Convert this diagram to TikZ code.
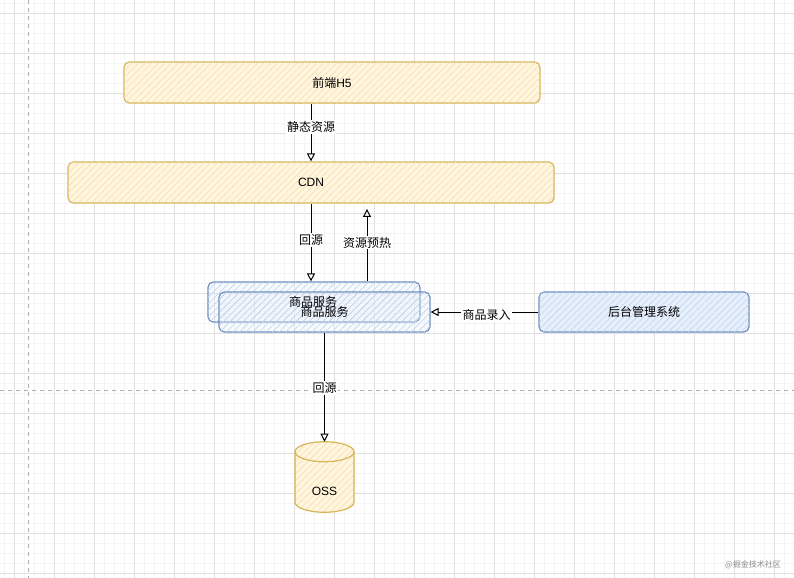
\documentclass[tikz,border=0pt]{standalone}
\usepackage{fontspec}
\setmainfont{Liberation Sans}
\newfontfamily\cjk{Noto Sans CJK SC}
\usetikzlibrary{patterns.meta,arrows.meta,calc}
\definecolor{ylw}{HTML}{D6B656}
\definecolor{ylwfill}{HTML}{FFF6DD}
\definecolor{ylwhatch}{HTML}{F6DDB8}
\definecolor{blu}{HTML}{6C8EBF}
\definecolor{blufill}{HTML}{E6EFFC}
\definecolor{bluhatch}{HTML}{C3D4EC}
\definecolor{gmin}{HTML}{F4F4F4}
\definecolor{gmaj}{HTML}{E0E0E0}
\tikzset{
  box/.style={rounded corners=4pt, line width=0.9pt, font=\fontsize{9}{11}\selectfont, text opacity=1, inner sep=0pt},
  ybox/.style={box, draw=ylw, fill=ylwfill, postaction={pattern={Lines[angle=45,distance=3.5pt,line width=0.45pt]}, pattern color=ylwhatch}},
  bbox/.style={box, draw=blu, fill=blufill, fill opacity=0.3, postaction={pattern={Lines[angle=45,distance=3.5pt,line width=0.45pt]}, pattern color=bluhatch}},
  btext/.style={font=\fontsize{9}{11}\selectfont\cjk, inner sep=0pt},
  lab/.style={fill=white, inner sep=1pt, font=\fontsize{9}{11}\selectfont\cjk},
  arr/.style={-{Triangle[open,length=6pt,width=6pt]}, line width=0.75pt, black},
  gridmin/.style={gmin, line width=0.5pt},
  gridmaj/.style={gmaj, line width=0.6pt},
  guide/.style={gray!65, line width=0.6pt, dash pattern=on 3pt off 3pt}
}
\begin{document}
\begin{tikzpicture}[x=0.75pt, y=-0.75pt]
\useasboundingbox (0,0) rectangle (794,578);
\fill[white] (0,0) rectangle (794,578);
% grid
\draw[gridmin] foreach \x in {4,14,...,794} {(\x,0) -- (\x,578)};
\draw[gridmin] foreach \y in {3,13,...,578} {(0,\y) -- (794,\y)};
\draw[gridmaj] foreach \x in {14,54,...,794} {(\x,0) -- (\x,578)};
\draw[gridmaj] foreach \y in {13,53,...,578} {(0,\y) -- (794,\y)};
\draw[guide] (28,0) -- (28,578);
\draw[guide] (0,390) -- (794,390);

% nodes
\node[ybox, minimum width=312pt, minimum height=30.75pt] (h5) at (332,82.5) {{\cjk 前端}H5};
\node[ybox, minimum width=364.5pt, minimum height=30.75pt] (cdn) at (311,182.5) {CDN};
\node[bbox, minimum width=159pt, minimum height=30pt] (svc1) at (314,302) {};
\node[bbox, minimum width=158.25pt, minimum height=30pt] (svc2) at (324.5,312) {};
\node[btext] (svc1t) at ($(svc1.center)+(-1,0)$) {商品服务};
\node[btext] (svc2t) at (svc2.center) {商品服务};
\node[bbox, fill opacity=1, minimum width=157.5pt, minimum height=30pt] (admin) at (644,312) {\cjk 后台管理系统};

% OSS cylinder
\node[minimum width=44.25pt, minimum height=52.5pt, inner sep=0pt] (oss) at (324.5,477) {};
\coordinate (osstop) at ($(oss.north)+(0,10)$);
\coordinate (ossbot) at ($(oss.south)+(0,-10)$);
\path[fill=ylwfill] ($(osstop)+(-29.5,0)$) -- ($(ossbot)+(-29.5,0)$)
  arc[start angle=180, end angle=360, x radius=22.125pt, y radius=7.5pt]
  -- ($(osstop)+(29.5,0)$)
  arc[start angle=0, end angle=180, x radius=22.125pt, y radius=7.5pt] -- cycle;
\path[pattern={Lines[angle=45,distance=3.5pt,line width=0.45pt]}, pattern color=ylwhatch] ($(osstop)+(-29.5,0)$) -- ($(ossbot)+(-29.5,0)$)
  arc[start angle=180, end angle=360, x radius=22.125pt, y radius=7.5pt]
  -- ($(osstop)+(29.5,0)$)
  arc[start angle=0, end angle=180, x radius=22.125pt, y radius=7.5pt] -- cycle;
\draw[ylw, line width=0.9pt] ($(osstop)+(-29.5,0)$) -- ($(ossbot)+(-29.5,0)$)
  arc[start angle=180, end angle=360, x radius=22.125pt, y radius=7.5pt]
  -- ($(osstop)+(29.5,0)$);
\draw[ylw, line width=0.9pt] (osstop) ellipse[x radius=22.125pt, y radius=7.5pt];
\node[font=\fontsize{9}{11}\selectfont] (osslabel) at ($(oss.center)+(0,14)$) {OSS};

% connectors
\draw[arr] (h5.south -| cdn.north) -- node[lab, pos=0.4] {静态资源} (cdn.north);
\draw[arr] (cdn.south) -- node[lab, pos=0.47] {回源} (cdn.south |- svc1.north);
\coordinate (warm) at ($(svc1.north)+(53,0)$);
\draw[arr, shorten >=4pt] (warm) -- node[lab, pos=0.5] {资源预热} (warm |- cdn.south);
\draw[arr] (admin.west) -- node[lab, pos=0.48, yshift=-2pt] {商品录入} (svc2.east);
\draw[arr] (svc2.south) -- node[lab, pos=0.51] {回源} (oss.north);

% watermark
\node[font=\fontsize{6}{7}\selectfont\cjk, text=gray!90] (wm) at (753,565) {@掘金技术社区};
\end{tikzpicture}
\end{document}
